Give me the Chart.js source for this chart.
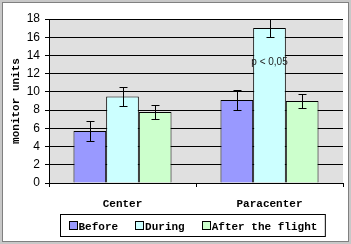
<!DOCTYPE html>
<html>
<head>
<meta charset="utf-8">
<script src="https://cdn.jsdelivr.net/npm/chart.js"></script>
<style>
  html, body { margin: 0; padding: 0; background: #fff; }
  #wrap { width: 351px; height: 244px; position: relative; }
</style>
</head>
<body>
<div id="wrap"><canvas id="barchart"></canvas></div>
<script>
const categories = ['Center', 'Paracenter'];
const seriesNames = ['Before', 'During', 'After the flight'];
const before = [5.7, 9.1];
const during = [9.5, 17.0];
const afterFlight = [7.8, 9.0];
const beforeErr = [1.1, 1.1];
const duringErr = [1.0, 1.0];
const afterErr = [0.75, 0.75];
const yTicks = [0, 2, 4, 6, 8, 10, 12, 14, 16, 18];
const noteText = 'p < 0,05';
const noteAt = { dataset: 1, index: 1, y: 13.3 };

const monoFamily = '"Liberation Mono", "Courier New", monospace';
const monoBold = { family: monoFamily, size: 11, weight: 'bold' };

const frame = {
    id: 'frame',
    beforeDraw(chart) {
        const c = chart.ctx, a = chart.chartArea;
        c.save();
        c.fillStyle = '#c8c8c8';
        c.fillRect(0, 0, chart.width, chart.height);
        c.fillStyle = '#ffffff';
        c.fillRect(3, 3, chart.width - 6, chart.height - 6);
        c.strokeStyle = '#808080';
        c.lineWidth = 1;
        c.strokeRect(2.5, 2.5, chart.width - 5, chart.height - 5);
        c.fillStyle = '#e0e0e0';
        c.fillRect(a.left, a.top, a.right - a.left, a.bottom - a.top);
        c.restore();
    },
    afterDatasetsDraw(chart) {
        const c = chart.ctx;
        const errs = [beforeErr, duringErr, afterErr];
        const ys = chart.scales.y;
        c.save();
        c.strokeStyle = '#000';
        c.lineWidth = 1;
        chart.data.datasets.forEach((ds, i) => {
            chart.getDatasetMeta(i).data.forEach((bar, j) => {
                const v = ds.data[j], e = errs[i][j];
                const x = Math.round(bar.x) + 0.5;
                const y1 = Math.round(ys.getPixelForValue(v + e)) + 0.5;
                const y2 = Math.round(ys.getPixelForValue(v - e)) + 0.5;
                c.beginPath();
                c.moveTo(x, y1); c.lineTo(x, y2);
                c.moveTo(x - 4, y1); c.lineTo(x + 4, y1);
                c.moveTo(x - 4, y2); c.lineTo(x + 4, y2);
                c.stroke();
            });
        });
        const nb = chart.getDatasetMeta(noteAt.dataset).data[noteAt.index];
        c.font = '10px "Liberation Sans", Arial, sans-serif';
        c.fillStyle = '#222';
        c.textAlign = 'center';
        c.textBaseline = 'middle';
        c.fillText(noteText, nb.x, ys.getPixelForValue(noteAt.y));
        c.restore();
    },
    afterDraw(chart) {
        // legend box drawn by hand to get the tight marker/text spacing
        const c = chart.ctx;
        c.save();
        c.font = 'bold 11px ' + monoFamily;
        const widths = seriesNames.map(n => 10 + c.measureText(n).width);
        const gap = 17, pad = 8;
        const w = widths.reduce((s, v) => s + v, 0) + gap * (widths.length - 1) + pad * 2;
        const left = Math.round(192.5 - w / 2) + 0.5, top = 214.5;
        c.fillStyle = '#fff';
        c.fillRect(left, top, w, 22);
        c.strokeStyle = '#000';
        c.lineWidth = 1;
        c.strokeRect(left, top, w, 22);
        let x = left + pad;
        c.textBaseline = 'middle';
        chart.data.datasets.forEach((ds, i) => {
            c.fillStyle = ds.backgroundColor;
            c.fillRect(Math.round(x), 222, 8, 7);
            c.strokeRect(Math.round(x) + 0.5, 221.5, 8, 8);
            c.fillStyle = '#000';
            c.fillText(seriesNames[i], x + 10, 227);
            x += widths[i] + gap;
        });
        c.restore();
    }
};

const ctx = document.getElementById('barchart').getContext('2d');
const chart = new Chart(ctx, {
    type: 'bar',
    data: {
        labels: categories,
        datasets: [
            { label: seriesNames[0], data: before, backgroundColor: '#9999ff' },
            { label: seriesNames[1], data: during, backgroundColor: '#ccffff' },
            { label: seriesNames[2], data: afterFlight, backgroundColor: '#ccffcc' }
        ].map(d => Object.assign(d, { borderColor: '#000', borderWidth: 1, categoryPercentage: 0.667, barPercentage: 1 }))
    },
    options: {
        responsive: true,
        maintainAspectRatio: false,
        animation: false,
        layout: { padding: { left: 6, right: 8, top: 19, bottom: 33 } },
        plugins: {
            tooltip: { enabled: false },
            legend: { display: false }
        },
        scales: {
            x: {
                afterFit: s => { s.height = 28; },
                grid: { drawOnChartArea: false, drawTicks: true, tickLength: 4, color: '#000', offset: true },
                border: { color: '#000' },
                ticks: { color: '#000', font: monoBold, padding: 11 }
            },
            y: {
                min: 0, max: 18,
                afterBuildTicks: s => { s.ticks = yTicks.map(v => ({ value: v })); },
                afterFit: s => { s.width = 43; },
                grid: { color: '#000', tickLength: 4 },
                border: { color: '#000' },
                ticks: { color: '#000', font: { family: '"Liberation Sans", Arial, sans-serif', size: 12 }, padding: 5 },
                title: { display: true, text: 'monitor units', color: '#000', font: monoBold, padding: 4 }
            }
        }
    },
    plugins: [frame]
});
</script>
</body>
</html>
